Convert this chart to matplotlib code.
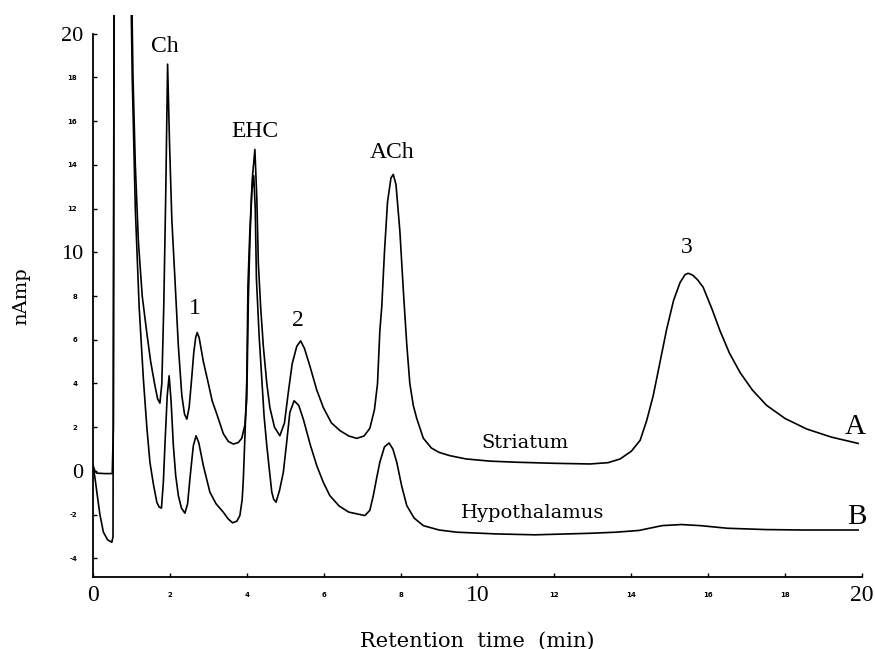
import numpy as np
import matplotlib
matplotlib.use("Agg")
import matplotlib.pyplot as plt

# trace A - striatum (x in min, y in nAmp)
striatum_t = [0.00, 0.05, 0.10, 0.30, 0.50, 0.53, 0.55, 0.99, 1.04, 1.10, 1.18, 1.28, 1.40, 1.50,
              1.60, 1.68, 1.74, 1.79, 1.84, 1.89, 1.94, 1.99, 2.05, 2.13, 2.22, 2.31, 2.38, 2.44,
              2.50, 2.56, 2.62, 2.67, 2.71, 2.76, 2.87, 3.00, 3.10, 3.22, 3.39, 3.52, 3.65, 3.78,
              3.87, 3.95, 4.00, 4.04, 4.08, 4.14, 4.21, 4.26, 4.30, 4.36, 4.43, 4.52, 4.60, 4.72,
              4.86, 4.98, 5.08, 5.18, 5.30, 5.40, 5.50, 5.64, 5.82, 5.99, 6.20, 6.42, 6.65, 6.86,
              7.05, 7.20, 7.32, 7.40, 7.46, 7.51, 7.58, 7.66, 7.75, 7.81, 7.88, 7.98, 8.08, 8.16,
              8.24, 8.33, 8.42, 8.59, 8.80, 9.00, 9.28, 9.70, 10.32, 11.00, 12.00, 12.93, 13.40,
              13.71, 14.00, 14.23, 14.40, 14.57, 14.75, 14.92, 15.10, 15.27, 15.40, 15.48, 15.60,
              15.72, 15.87, 16.10, 16.31, 16.55, 16.83, 17.15, 17.52, 18.00, 18.56, 19.20, 19.90]
striatum_i = [0.25, 0.00, -0.10, -0.12, -0.12, 2.0, 24.0, 24.0, 18.0, 14.0, 10.5, 8.0, 6.3, 5.0,
              4.0, 3.3, 3.1, 4.0, 7.5, 12.5, 18.6, 15.0, 11.5, 8.8, 5.7, 3.45, 2.6, 2.37,
              2.9, 4.1, 5.4, 6.1, 6.33, 6.1, 5.0, 4.0, 3.2, 2.6, 1.7, 1.35, 1.23, 1.3,
              1.5, 2.1, 3.3, 7.8, 10.5, 13.3, 14.7, 12.5, 9.5, 7.5, 5.7, 4.0, 2.9, 2.0,
              1.61, 2.2, 3.6, 4.9, 5.7, 5.95, 5.6, 4.8, 3.7, 2.9, 2.2, 1.85, 1.6, 1.49,
              1.6, 1.95, 2.8, 4.0, 6.4, 7.5, 10.0, 12.3, 13.4, 13.56, 13.1, 11.0, 8.0, 5.8,
              4.0, 3.0, 2.4, 1.5, 1.05, 0.85, 0.70, 0.55, 0.45, 0.40, 0.35, 0.32, 0.38,
              0.55, 0.9, 1.4, 2.3, 3.44, 5.0, 6.48, 7.8, 8.62, 8.98, 9.04, 8.95,
              8.75, 8.4, 7.4, 6.4, 5.4, 4.5, 3.7, 3.0, 2.4, 1.92, 1.55, 1.26]

# trace B - hypothalamus
hypo_t = [0.00, 0.05, 0.10, 0.18, 0.27, 0.38, 0.49, 0.52, 0.55, 0.97, 1.02, 1.10, 1.20, 1.31,
          1.40, 1.48, 1.57, 1.66, 1.72, 1.78, 1.83, 1.87, 1.93, 1.98, 2.03, 2.09, 2.15, 2.22,
          2.30, 2.39, 2.46, 2.52, 2.57, 2.61, 2.68, 2.75, 2.87, 3.04, 3.20, 3.39, 3.52, 3.63,
          3.74, 3.82, 3.88, 3.91, 3.96, 4.00, 4.03, 4.08, 4.13, 4.18, 4.22, 4.25, 4.32, 4.39,
          4.45, 4.52, 4.59, 4.65, 4.70, 4.76, 4.85, 4.95, 5.03, 5.12, 5.23, 5.35, 5.47, 5.65,
          5.82, 5.99, 6.16, 6.40, 6.65, 6.86, 7.07, 7.20, 7.29, 7.38, 7.46, 7.58, 7.70, 7.80,
          7.90, 8.03, 8.16, 8.35, 8.59, 9.00, 9.46, 10.50, 11.50, 12.93, 13.60, 14.20, 14.80,
          15.30, 15.80, 16.50, 17.50, 18.50, 19.90]
hypo_i = [0.25, -0.30, -0.97, -2.0, -2.8, -3.15, -3.26, -3.0, 24.0, 24.0, 18.0, 12.0, 7.5, 4.2,
          2.0, 0.4, -0.6, -1.43, -1.65, -1.70, -0.5, 1.16, 3.44, 4.35, 3.2, 1.16, -0.2, -1.13,
          -1.7, -1.93, -1.5, -0.37, 0.5, 1.16, 1.61, 1.3, 0.24, -0.97, -1.5, -1.89, -2.2, -2.37,
          -2.3, -2.04, -1.3, -0.37, 2.0, 4.2, 8.5, 11.0, 12.8, 13.5, 12.0, 8.8, 6.2, 4.2,
          2.5, 1.16, 0.0, -0.97, -1.3, -1.43, -0.9, -0.06, 1.2, 2.68, 3.21, 3.0, 2.37, 1.2,
          0.24, -0.52, -1.13, -1.6, -1.88, -1.96, -2.04, -1.8, -1.13, -0.3, 0.4, 1.1, 1.28, 1.0,
          0.4, -0.7, -1.58, -2.15, -2.50, -2.7, -2.80, -2.88, -2.92, -2.85, -2.80, -2.72, -2.5,
          -2.45, -2.5, -2.62, -2.68, -2.70, -2.70]

x_ticks = [0, 2, 4, 6, 8, 10, 12, 14, 16, 18, 20]
y_ticks = [-4, -2, 0, 2, 4, 6, 8, 10, 12, 14, 16, 18, 20]

# peak labels: (text, time, nAmp)
peak_labels = [("Ch", 1.87, 19.4), ("1", 2.65, 7.45), ("EHC", 4.21, 15.5), ("2", 5.34, 6.9),
               ("ACh", 7.77, 14.55), ("3", 15.44, 10.2)]

fig = plt.figure(figsize=(8.75, 6.49), dpi=100)
ax = fig.add_axes([0.1063, 0.1109, 0.8788, 0.866])

ax.plot(striatum_t, striatum_i, color="black", lw=1.2)
ax.plot(hypo_t, hypo_i, color="black", lw=1.2)

ax.set_xlim(0, 20)
ax.set_ylim(-4.85, 20.85)
for s in ["top", "right"]:
    ax.spines[s].set_visible(False)
ax.spines["left"].set_bounds(-4.85, 20)
ax.spines["left"].set_linewidth(1.3)
ax.spines["bottom"].set_linewidth(1.3)

ax.set_xticks(x_ticks)
ax.set_xticklabels([str(v) for v in x_ticks])
ax.set_yticks(y_ticks)
ax.set_yticklabels([str(v) for v in y_ticks])
ax.tick_params(axis="x", direction="in", length=3, width=1, pad=6)
ax.tick_params(axis="y", direction="in", length=3, width=1, pad=7)

for lab, v in zip(ax.get_xticklabels(), x_ticks):
    if v % 10 == 0:
        lab.set_fontsize(17)
        lab.set_family("Liberation Serif")
    else:
        lab.set_fontsize(5)
        lab.set_fontweight("bold")
        lab.set_y(-0.012)
for lab, v in zip(ax.get_yticklabels(), y_ticks):
    if v % 10 == 0:
        lab.set_fontsize(16)
        lab.set_family("Liberation Serif")
    else:
        lab.set_fontsize(5)
        lab.set_fontweight("bold")
        lab.set_x(-0.008)

ax.set_xlabel("Retention  time  (min)", fontsize=15, family="DejaVu Serif", labelpad=18)
ax.set_ylabel("nAmp", fontsize=14, family="DejaVu Serif", labelpad=22)

for txt, t, v in peak_labels:
    ax.text(t, v, txt, ha="center", va="center", fontsize=17, family="Liberation Serif")

ax.text(11.24, 1.27, "Striatum", ha="center", va="center", fontsize=14, family="DejaVu Serif")
ax.text(11.44, -1.93, "Hypothalamus", ha="center", va="center", fontsize=14, family="DejaVu Serif")
ax.text(19.82, 2.03, "A", ha="center", va="center", fontsize=21, family="Liberation Serif")
ax.text(19.86, -2.09, "B", ha="center", va="center", fontsize=21, family="Liberation Serif")

fig.savefig("out.png", dpi=100)
